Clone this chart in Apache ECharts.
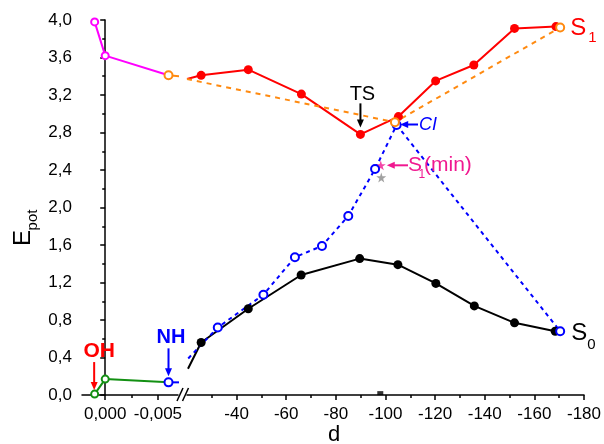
<!DOCTYPE html>
<html><head><meta charset="utf-8">
<script src="https://cdn.jsdelivr.net/npm/echarts@6/dist/echarts.min.js"></script>
<style>html,body{margin:0;padding:0;background:#fff}#c{width:604px;height:444px}</style>
</head><body><div id="c"></div>
<script>
// ---- data ----
const leftTickValues = [0, -0.005];
const leftMinorTickValues = [-0.0025];
const rightTickValues = [-40, -60, -80, -100, -120, -140, -160, -180];

const magentaS1 = [[0.001, 3.98], [0, 3.62], [-0.006, 3.41]];
const greenS0 = [[0.001, 0.01], [0, 0.17], [-0.006, 0.135]];
const orangeStub = [[-0.006, 3.41], [-0.0075, 3.395]];
const blueStub = [[-0.006, 0.135], [-0.0075, 0.135]];

const redS1 = [[-20, 3.37], [-25.7, 3.41], [-44.7, 3.47], [-66.1, 3.21], [-89.9, 2.78], [-105.2, 2.97], [-120.2, 3.35], [-135.6, 3.52], [-152, 3.91], [-168.7, 3.93]];
const orangeDash = [[-20, 3.37], [-103.8, 2.91], [-170.4, 3.92]];
const blueDash = [[-20.5, 0.39], [-32.4, 0.72], [-50.8, 1.07], [-63.5, 1.47], [-74.4, 1.59], [-85, 1.91], [-95.8, 2.41], [-104.5, 2.88], [-170.4, 0.68]];
const blackS0 = [[-20.4, 0.28], [-25.7, 0.56], [-44.7, 0.92], [-66, 1.28], [-89.6, 1.455], [-105, 1.39], [-120.3, 1.19], [-135.8, 0.95], [-152, 0.77], [-168.4, 0.68]];
const s1MinStar = [[-98.1, 2.45]];
const grayStar = [[-98.3, 2.32]];
const axisMark = [[-97.9, 0.02]];

// ---- styles ----
const FONT = '"Liberation Sans", Arial, sans-serif';
const RED = '#ff0000', ORANGE = '#ff8a10', BLUE = '#0000ff', GREEN = '#139013', MAGENTA = '#ff00ff', PINK = '#f01890';
const STAR = 'path://M50,0 L61,35 L98,35 L68,57 L79,91 L50,70 L21,91 L32,57 L2,35 L39,35 Z';

const axLine = { show: true, lineStyle: { color: '#000', width: 1.5 } };
const tickStyle = { color: '#000', width: 1.5 };
const labelBase = { color: '#000', fontSize: 17, fontFamily: FONT };

function noFirstSymbol(arr) { return arr.map((p, i) => i === 0 ? { value: p, symbol: 'none' } : p); }
function noLastSymbol(arr) { return arr.map((p, i) => i === arr.length - 1 ? { value: p, symbol: 'none' } : p); }

const option = {
  animation: false,
  backgroundColor: '#fff',
  grid: [
    { left: 82, top: 20, width: 96, height: 375 },
    { left: 187, top: 20, width: 400, height: 375 }
  ],
  xAxis: [
    { gridIndex: 0, type: 'value', min: -0.0069, max: 0.0022, inverse: true, position: 'bottom',
      axisLine: axLine, splitLine: { show: false },
      axisTick: { show: true, length: 5, customValues: leftTickValues, lineStyle: tickStyle },
      axisLabel: Object.assign({}, labelBase, { margin: 11, customValues: leftTickValues,
        formatter: v => (Math.abs(v) < 1e-9 ? 0 : v).toFixed(3).replace('.', ',') }) },
    { gridIndex: 0, type: 'value', min: -0.0069, max: 0.0022, inverse: true, position: 'bottom',
      axisLine: { show: false }, splitLine: { show: false }, axisLabel: { show: false },
      axisTick: { show: true, length: 3, customValues: leftMinorTickValues, lineStyle: tickStyle } },
    { gridIndex: 1, type: 'value', min: -180, max: -20, interval: 20, inverse: true, position: 'bottom',
      axisLine: axLine, splitLine: { show: false }, minorSplitLine: { show: false },
      axisTick: { show: true, length: 5, customValues: rightTickValues, lineStyle: tickStyle },
      minorTick: { show: true, splitNumber: 2, length: 3, lineStyle: tickStyle },
      axisLabel: Object.assign({}, labelBase, { margin: 11, customValues: rightTickValues, formatter: v => String(v) }) }
  ],
  yAxis: [
    { gridIndex: 0, type: 'value', min: 0, max: 4, interval: 0.4,
      axisLine: axLine, splitLine: { show: false }, minorSplitLine: { show: false },
      axisTick: { show: true, length: 5, lineStyle: tickStyle },
      minorTick: { show: true, splitNumber: 2, length: 3, lineStyle: tickStyle },
      axisLabel: Object.assign({}, labelBase, { margin: 10, formatter: v => v.toFixed(1).replace('.', ',') }) },
    { gridIndex: 1, type: 'value', min: 0, max: 4, show: false }
  ],
  series: [
    { type: 'line', xAxisIndex: 0, yAxisIndex: 0, data: noLastSymbol(magentaS1),
      lineStyle: { color: MAGENTA, width: 2 }, itemStyle: { color: MAGENTA, borderWidth: 1.5 },
      symbol: 'emptyCircle', symbolSize: 7 },
    { type: 'line', xAxisIndex: 0, yAxisIndex: 0, data: noLastSymbol(greenS0),
      lineStyle: { color: GREEN, width: 2 }, itemStyle: { color: GREEN, borderWidth: 1.5 },
      symbol: 'emptyCircle', symbolSize: 7 },
    { type: 'line', xAxisIndex: 0, yAxisIndex: 0, data: noLastSymbol(orangeStub),
      lineStyle: { color: ORANGE, width: 2 }, itemStyle: { color: ORANGE, borderWidth: 1.5 },
      symbol: 'emptyCircle', symbolSize: 8 },
    { type: 'line', xAxisIndex: 0, yAxisIndex: 0, data: noLastSymbol(blueStub),
      lineStyle: { color: BLUE, width: 2 }, itemStyle: { color: BLUE, borderWidth: 1.5 },
      symbol: 'emptyCircle', symbolSize: 8 },

    { type: 'line', xAxisIndex: 2, yAxisIndex: 1, data: noFirstSymbol(blackS0),
      lineStyle: { color: '#000', width: 2 }, itemStyle: { color: '#000' },
      symbol: 'circle', symbolSize: 9 },
    { type: 'line', xAxisIndex: 2, yAxisIndex: 1, data: noFirstSymbol(blueDash),
      lineStyle: { color: BLUE, width: 2, type: [4, 4] }, itemStyle: { color: BLUE, borderWidth: 1.5 },
      symbol: 'emptyCircle', symbolSize: 8 },
    { type: 'line', xAxisIndex: 2, yAxisIndex: 1, data: noFirstSymbol(redS1),
      lineStyle: { color: RED, width: 2 }, itemStyle: { color: RED },
      symbol: 'circle', symbolSize: 9 },
    { type: 'line', xAxisIndex: 2, yAxisIndex: 1, data: noFirstSymbol(orangeDash),
      lineStyle: { color: ORANGE, width: 2, type: [5, 5] }, itemStyle: { color: ORANGE, borderWidth: 1.5 },
      symbol: 'emptyCircle', symbolSize: 8 },
    { type: 'scatter', xAxisIndex: 2, yAxisIndex: 1, data: grayStar, symbol: STAR, symbolSize: 10,
      itemStyle: { color: '#8a8a8a' } },
    { type: 'scatter', xAxisIndex: 2, yAxisIndex: 1, data: s1MinStar, symbol: STAR, symbolSize: 10,
      itemStyle: { color: PINK } },
    { type: 'scatter', xAxisIndex: 2, yAxisIndex: 1, data: axisMark, symbol: 'rect', symbolSize: [6, 4],
      itemStyle: { color: '#000' } }
  ]
};

const chart = echarts.init(document.getElementById('c'), null, { renderer: 'canvas' });
chart.setOption(option);

function px(g, p) { return chart.convertToPixel({ gridIndex: g }, p); }
function txt(x, y, text, font, fill, align, rotation) {
  const el = { type: 'text', x: x, y: y, z: 100,
    style: { text: text, font: font, fill: fill, align: align || 'left', verticalAlign: 'middle',
             textAlign: align || 'left', textVerticalAlign: 'middle' } };
  if (rotation) el.rotation = rotation;
  return el;
}
function arrow(x1, y1, x2, y2, color) {
  const dx = x2 - x1, dy = y2 - y1, L = Math.sqrt(dx * dx + dy * dy);
  const ux = dx / L, uy = dy / L, hl = 8, hw = 3.5;
  const bx = x2 - ux * hl, by = y2 - uy * hl;
  return [
    { type: 'line', z: 100, shape: { x1: x1, y1: y1, x2: bx + ux, y2: by + uy }, style: { stroke: color, lineWidth: 2 } },
    { type: 'polygon', z: 100, shape: { points: [[x2, y2], [bx - uy * hw, by + ux * hw], [bx + uy * hw, by - ux * hw]] }, style: { fill: color } }
  ];
}

const ts = px(1, redS1[4]);
const ci = px(1, blueDash[7]);
const st = px(1, s1MinStar[0]);
const oh = px(0, greenS0[0]);
const nh = px(0, greenS0[2]);
const s1e = px(1, orangeDash[2]);
const s0e = px(1, blueDash[8]);

const B = 'bold 21px ' + FONT;
let g = [];
// break marks
g.push({ type: 'line', z: 100, shape: { x1: 177, y1: 401, x2: 183, y2: 388 }, style: { stroke: '#000', lineWidth: 1.5 } });
g.push({ type: 'line', z: 100, shape: { x1: 182.5, y1: 401, x2: 188.5, y2: 388 }, style: { stroke: '#000', lineWidth: 1.5 } });
// TS
g.push(txt(ts[0] + 2, ts[1] - 40, 'TS', '20px ' + FONT, '#000', 'center'));
g = g.concat(arrow(ts[0], ts[1] - 31, ts[0], ts[1] - 7, '#000'));
// CI
g.push(txt(419, ci[1], 'CI', 'italic 18px ' + FONT, BLUE, 'left'));
g = g.concat(arrow(418, ci[1] - 0.5, ci[0] + 3.5, ci[1] - 0.5, BLUE));
// S1(min)
g.push(txt(408, st[1] - 0.5, 'S', '21px ' + FONT, PINK, 'left'));
g.push(txt(418.5, st[1] + 9, '1', '12px ' + FONT, PINK, 'left'));
g.push(txt(424, st[1] - 0.5, '(min)', '21px ' + FONT, PINK, 'left'));
g = g.concat(arrow(408, st[1], st[0] + 6, st[1], PINK));
// S1, S0 labels
g.push(txt(s1e[0] + 10, s1e[1] + 0.5, 'S', '24px ' + FONT, RED, 'left'));
g.push(txt(s1e[0] + 28, s1e[1] + 10.5, '1', '15px ' + FONT, RED, 'left'));
g.push(txt(s0e[0] + 11, s0e[1] + 2, 'S', '24px ' + FONT, '#000', 'left'));
g.push(txt(s0e[0] + 27, s0e[1] + 13.5, '0', '15px ' + FONT, '#000', 'left'));
// OH, NH
g.push(txt(oh[0] + 4.5, oh[1] - 43, 'OH', B, RED, 'center'));
g = g.concat(arrow(oh[0] - 0.5, oh[1] - 32, oh[0] - 0.5, oh[1] - 4, RED));
g.push(txt(nh[0] + 2.5, nh[1] - 45, 'NH', 'bold 20px ' + FONT, BLUE, 'center'));
g = g.concat(arrow(nh[0], nh[1] - 34, nh[0], nh[1] - 6, BLUE));
// axis titles
g.push(txt(23, 238, 'E', '24px ' + FONT, '#000', 'center', Math.PI / 2));
g.push(txt(33, 220, 'pot', '15px ' + FONT, '#000', 'center', Math.PI / 2));
g.push(txt(334, 435, 'd', '22px ' + FONT, '#000', 'center'));

chart.setOption({ graphic: { elements: g } });
</script>
</body></html>
